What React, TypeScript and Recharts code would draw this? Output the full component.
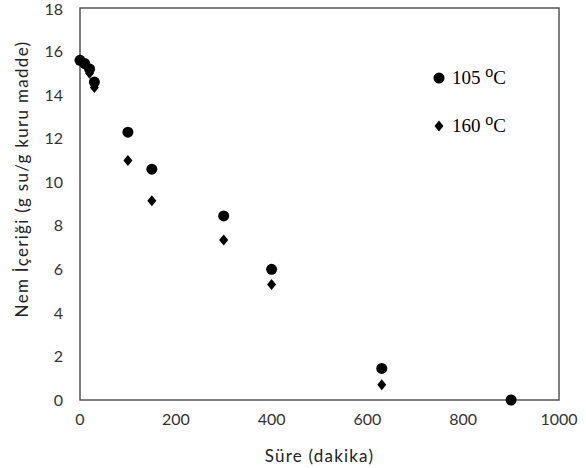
import { ScatterChart, Scatter, XAxis, YAxis, ReferenceArea } from 'recharts';

// Süre (dakika) vs nem içeriği
const sure105 = [0, 10, 20, 30, 100, 150, 300, 400, 630, 900];
const nem105 = [15.6, 15.45, 15.2, 14.6, 12.3, 10.6, 8.45, 6.0, 1.45, 0];
const sure160 = [0, 10, 20, 30, 100, 150, 300, 400, 630, 900];
const nem160 = [15.6, 15.4, 15.0, 14.35, 11.0, 9.15, 7.35, 5.3, 0.7, 0];
const xTicks = [0, 200, 400, 600, 800, 1000];
const yTicks = [0, 2, 4, 6, 8, 10, 12, 14, 16, 18];
const seriesNames = ['105', '160'];

const data105 = sure105.map((x, i) => ({ x, y: nem105[i] }));
const data160 = sure160.map((x, i) => ({ x, y: nem160[i] }));

const tickStyle = { fontFamily: 'Lato', fontSize: 16, fill: '#333' };

const Dot = (props: any) => <circle cx={props.cx} cy={props.cy} r={5.5} fill="#000" />;
const Diamond = (props: any) => {
  const { cx, cy } = props;
  return <polygon points={`${cx},${cy - 5.5} ${cx + 4.5},${cy} ${cx},${cy + 5.5} ${cx - 4.5},${cy}`} fill="#000" />;
};

const YTitle = () => (
  <text
    x={21}
    y={179}
    transform="rotate(-90 21 179)"
    textAnchor="middle"
    dominantBaseline="central"
    style={{ fontFamily: 'Lato', fontSize: 17, fill: '#222', letterSpacing: 1.3 }}
  >
    Nem İçeriği (g su/g kuru madde)
  </text>
);

const LegendBox = () => (
  <div
    style={{
      position: 'absolute',
      left: 433,
      top: 66,
      fontFamily: '"Liberation Serif", "Times New Roman", serif',
      fontSize: 19,
      color: '#000',
      lineHeight: '24px',
    }}
  >
    {seriesNames.map((n, i) => (
      <div key={n} style={{ display: 'flex', alignItems: 'center', height: 24, marginBottom: 24 }}>
        <svg width={12} height={12} style={{ marginRight: 7 }}>
          {i === 0 ? <circle cx={6} cy={6} r={5.5} fill="#000" /> : <polygon points="6,0.5 10.5,6 6,11.5 1.5,6" fill="#000" />}
        </svg>
        <span>
          {n} <span style={{ fontSize: 16, position: 'relative', top: -7 }}>o</span>C
        </span>
      </div>
    ))}
  </div>
);

export default function App() {
  return (
    <div style={{ position: 'absolute', left: 0, top: 0, width: 586, height: 468, background: '#fff' }}>
      <ScatterChart width={586} height={468} margin={{ top: 8, right: 27, bottom: 0, left: 0 }}>
        <XAxis
          type="number"
          dataKey="x"
          domain={[0, 1000]}
          ticks={xTicks}
          tickLine={false}
          axisLine={false}
          tickMargin={8}
          tick={tickStyle}
          height={68}
          label={{ value: 'Süre (dakika)', position: 'insideBottom', offset: 6, style: { fontFamily: 'Lato', fontSize: 17, fill: '#222', letterSpacing: 1.2 } }}
        />
        <YAxis
          type="number"
          dataKey="y"
          domain={[0, 18]}
          ticks={yTicks}
          tickLine={false}
          axisLine={false}
          tickMargin={11}
          tick={tickStyle}
          width={80}
          label={<YTitle />}
        />
        <ReferenceArea x1={0} x2={1000} y1={0} y2={18} fill="none" stroke="#555" strokeWidth={1.5} ifOverflow="visible" />
        <Scatter name="105 °C" data={data105} shape={<Dot />} isAnimationActive={false} />
        <Scatter name="160 °C" data={data160} shape={<Diamond />} isAnimationActive={false} />
      </ScatterChart>
      <LegendBox />
    </div>
  );
}
